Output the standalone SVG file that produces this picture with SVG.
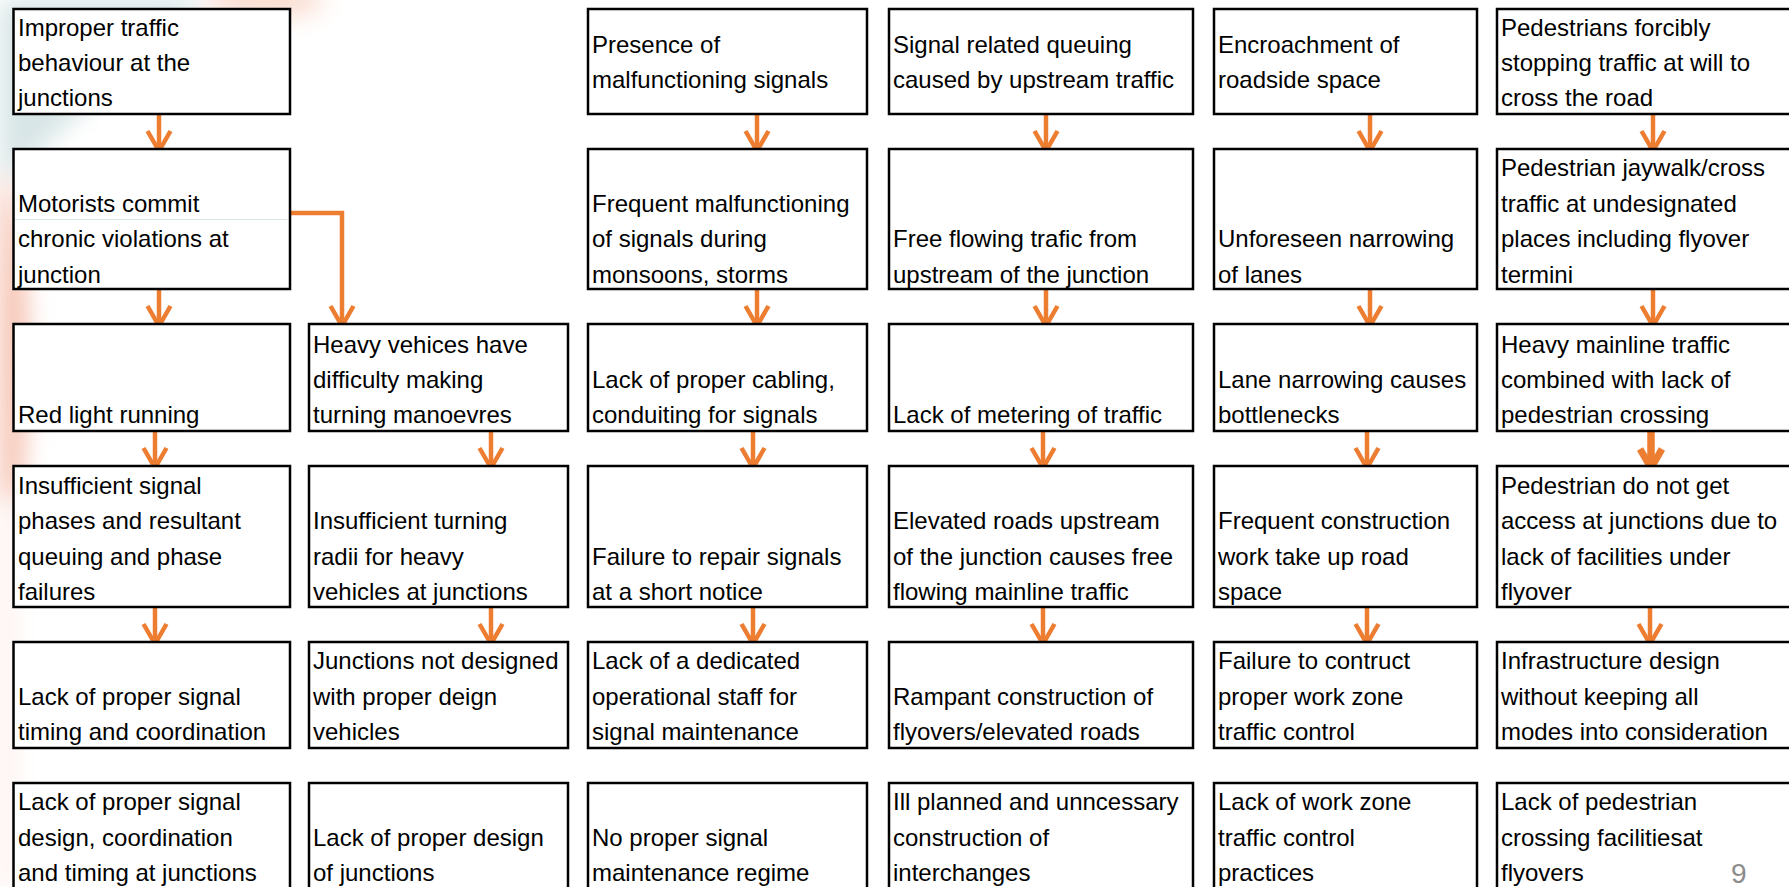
<svg xmlns="http://www.w3.org/2000/svg" width="1789" height="887" viewBox="0 0 1789 887">
  <defs>
    <style>
      .box { fill: #ffffff; stroke: #000000; stroke-width: 2.5; }
      .t { font-family: "Liberation Sans", Arial, sans-serif; font-size: 24px; fill: #000000; }
      .c { fill: none; stroke: #ED7D31; stroke-width: 4.5; marker-end: url(#head); }
      .cb { fill: none; stroke: #ED7D31; stroke-width: 7.5; marker-end: url(#headBold); }
      .pg { font-family: "Liberation Sans", Arial, sans-serif; font-size: 28px; fill: #8c8c8c; }
    </style>
    <filter id="soft" x="-50%" y="-50%" width="200%" height="200%">
      <feGaussianBlur stdDeviation="12"/>
    </filter>
    <marker id="head" markerUnits="userSpaceOnUse" viewBox="-26 -16 32 32" refX="0" refY="0" markerWidth="32" markerHeight="32" orient="auto" overflow="visible">
      <path d="M-20,-11.5 L0,0 L-20,11.5" fill="none" stroke="#ED7D31" stroke-width="4.5"/>
    </marker>
    <marker id="headBold" markerUnits="userSpaceOnUse" viewBox="-26 -16 32 32" refX="0" refY="0" markerWidth="32" markerHeight="32" orient="auto" overflow="visible">
      <path d="M-19,-11 L0,0 L-19,11" fill="none" stroke="#ED7D31" stroke-width="7"/>
    </marker>
  </defs>

  <!-- page background with soft coloured wash on the left edge -->
  <rect x="0" y="0" width="1789" height="887" fill="#ffffff"/>
  <g id="backdrop" filter="url(#soft)">
    <path d="M0,0 H210 C160,40 90,100 0,190 Z" fill="#d8e5e6"/>
    <ellipse cx="265" cy="0" rx="60" ry="18" fill="#fadccf"/>
    <path d="M0,170 C26,200 34,330 22,480 L0,540 Z" fill="#f5c0ae"/>
    <rect x="0" y="500" width="14" height="387" fill="#fcece7"/>
  </g>

  <!-- connectors -->
  <g id="connectors">
    <!-- row 1 to row 2 -->
    <path class="c" d="M159,114 V151"/>
    <path class="c" d="M757,114 V151"/>
    <path class="c" d="M1046,114 V151"/>
    <path class="c" d="M1370,114 V151"/>
    <path class="c" d="M1653,114 V151"/>
    <!-- row 2 to row 3 -->
    <path class="c" d="M159,289 V326"/>
    <path class="c" d="M290,213 H342 V326"/>
    <path class="c" d="M757,289 V326"/>
    <path class="c" d="M1046,289 V326"/>
    <path class="c" d="M1370,289 V326"/>
    <path class="c" d="M1653,289 V326"/>
    <!-- row 3 to row 4 -->
    <path class="c" d="M155,431 V468"/>
    <path class="c" d="M491,431 V468"/>
    <path class="c" d="M753,431 V468"/>
    <path class="c" d="M1043,431 V468"/>
    <path class="c" d="M1367,431 V468"/>
    <path class="cb" d="M1651,431 V468"/>
    <!-- row 4 to row 5 -->
    <path class="c" d="M155,607 V644"/>
    <path class="c" d="M491,607 V644"/>
    <path class="c" d="M753,607 V644"/>
    <path class="c" d="M1043,607 V644"/>
    <path class="c" d="M1367,607 V644"/>
    <path class="c" d="M1650,607 V644"/>
  </g>

  <!-- row 1 -->
  <g id="n-c1r1">
    <rect class="box" x="13.5" y="9" width="276.5" height="105"/>
    <text class="t"><tspan x="18" y="35.5">Improper traffic</tspan><tspan x="18" y="71">behaviour at the</tspan><tspan x="18" y="106.3">junctions</tspan></text>
  </g>
  <g id="n-c3r1">
    <rect class="box" x="588" y="9" width="279" height="105"/>
    <text class="t"><tspan x="592" y="52.7">Presence of</tspan><tspan x="592" y="88.3">malfunctioning signals</tspan></text>
  </g>
  <g id="n-c4r1">
    <rect class="box" x="889" y="9" width="304" height="105"/>
    <text class="t"><tspan x="893" y="52.7">Signal related queuing</tspan><tspan x="893" y="88.3">caused by upstream traffic</tspan></text>
  </g>
  <g id="n-c5r1">
    <rect class="box" x="1214" y="9" width="263" height="105"/>
    <text class="t"><tspan x="1218" y="52.7">Encroachment of</tspan><tspan x="1218" y="88.3">roadside space</tspan></text>
  </g>
  <g id="n-c6r1">
    <rect class="box" x="1497" y="9" width="303" height="105"/>
    <text class="t"><tspan x="1501" y="35.5">Pedestrians forcibly</tspan><tspan x="1501" y="71">stopping traffic at will to</tspan><tspan x="1501" y="106.3">cross the road</tspan></text>
  </g>

  <!-- row 2 -->
  <g id="n-c1r2">
    <rect class="box" x="13.5" y="149" width="276.5" height="140"/>
    <line x1="15" y1="219.5" x2="287" y2="219.5" stroke="#dbe4e4" stroke-width="1"/>
    <text class="t"><tspan x="18" y="211.5">Motorists commit</tspan><tspan x="18" y="247">chronic violations at</tspan><tspan x="18" y="282.5">junction</tspan></text>
  </g>
  <g id="n-c3r2">
    <rect class="box" x="588" y="149" width="279" height="140"/>
    <text class="t"><tspan x="592" y="211.5">Frequent malfunctioning</tspan><tspan x="592" y="247">of signals during</tspan><tspan x="592" y="282.5">monsoons, storms</tspan></text>
  </g>
  <g id="n-c4r2">
    <rect class="box" x="889" y="149" width="304" height="140"/>
    <text class="t"><tspan x="893" y="247">Free flowing trafic from</tspan><tspan x="893" y="282.5">upstream of the junction</tspan></text>
  </g>
  <g id="n-c5r2">
    <rect class="box" x="1214" y="149" width="263" height="140"/>
    <text class="t"><tspan x="1218" y="247">Unforeseen narrowing</tspan><tspan x="1218" y="282.5">of lanes</tspan></text>
  </g>
  <g id="n-c6r2">
    <rect class="box" x="1497" y="149" width="303" height="140"/>
    <text class="t"><tspan x="1501" y="176">Pedestrian jaywalk/cross</tspan><tspan x="1501" y="211.5">traffic at undesignated</tspan><tspan x="1501" y="247">places including flyover</tspan><tspan x="1501" y="282.5">termini</tspan></text>
  </g>

  <!-- row 3 -->
  <g id="n-c1r3">
    <rect class="box" x="13.5" y="324" width="276.5" height="107"/>
    <text class="t"><tspan x="18" y="423.3">Red light running</tspan></text>
  </g>
  <g id="n-c2r3">
    <rect class="box" x="309" y="324" width="259" height="107"/>
    <text class="t"><tspan x="313" y="352.7">Heavy vehices have</tspan><tspan x="313" y="388">difficulty making</tspan><tspan x="313" y="423.3">turning manoevres</tspan></text>
  </g>
  <g id="n-c3r3">
    <rect class="box" x="588" y="324" width="279" height="107"/>
    <text class="t"><tspan x="592" y="388">Lack of proper cabling,</tspan><tspan x="592" y="423.3">conduiting for signals</tspan></text>
  </g>
  <g id="n-c4r3">
    <rect class="box" x="889" y="324" width="304" height="107"/>
    <text class="t"><tspan x="893" y="423.3">Lack of metering of traffic</tspan></text>
  </g>
  <g id="n-c5r3">
    <rect class="box" x="1214" y="324" width="263" height="107"/>
    <text class="t"><tspan x="1218" y="388">Lane narrowing causes</tspan><tspan x="1218" y="423.3">bottlenecks</tspan></text>
  </g>
  <g id="n-c6r3">
    <rect class="box" x="1497" y="324" width="303" height="107"/>
    <text class="t"><tspan x="1501" y="352.7">Heavy mainline traffic</tspan><tspan x="1501" y="388">combined with lack of</tspan><tspan x="1501" y="423.3">pedestrian crossing</tspan></text>
  </g>

  <!-- row 4 -->
  <g id="n-c1r4">
    <rect class="box" x="13.5" y="466" width="276.5" height="141"/>
    <text class="t"><tspan x="18" y="493.5">Insufficient signal</tspan><tspan x="18" y="529">phases and resultant</tspan><tspan x="18" y="564.5">queuing and phase</tspan><tspan x="18" y="600">failures</tspan></text>
  </g>
  <g id="n-c2r4">
    <rect class="box" x="309" y="466" width="259" height="141"/>
    <text class="t"><tspan x="313" y="529">Insufficient turning</tspan><tspan x="313" y="564.5">radii for heavy</tspan><tspan x="313" y="600">vehicles at junctions</tspan></text>
  </g>
  <g id="n-c3r4">
    <rect class="box" x="588" y="466" width="279" height="141"/>
    <text class="t"><tspan x="592" y="564.5">Failure to repair signals</tspan><tspan x="592" y="600">at a short notice</tspan></text>
  </g>
  <g id="n-c4r4">
    <rect class="box" x="889" y="466" width="304" height="141"/>
    <text class="t"><tspan x="893" y="529">Elevated roads upstream</tspan><tspan x="893" y="564.5">of the junction causes free</tspan><tspan x="893" y="600">flowing mainline traffic</tspan></text>
  </g>
  <g id="n-c5r4">
    <rect class="box" x="1214" y="466" width="263" height="141"/>
    <text class="t"><tspan x="1218" y="529">Frequent construction</tspan><tspan x="1218" y="564.5">work take up road</tspan><tspan x="1218" y="600">space</tspan></text>
  </g>
  <g id="n-c6r4">
    <rect class="box" x="1497" y="466" width="303" height="141"/>
    <text class="t"><tspan x="1501" y="493.5">Pedestrian do not get</tspan><tspan x="1501" y="529">access at junctions due to</tspan><tspan x="1501" y="564.5">lack of facilities under</tspan><tspan x="1501" y="600">flyover</tspan></text>
  </g>

  <!-- row 5 -->
  <g id="n-c1r5">
    <rect class="box" x="13.5" y="642" width="276.5" height="106"/>
    <text class="t"><tspan x="18" y="704.5">Lack of proper signal</tspan><tspan x="18" y="740">timing and coordination</tspan></text>
  </g>
  <g id="n-c2r5">
    <rect class="box" x="309" y="642" width="259" height="106"/>
    <text class="t"><tspan x="313" y="669">Junctions not designed</tspan><tspan x="313" y="704.5">with proper deign</tspan><tspan x="313" y="740">vehicles</tspan></text>
  </g>
  <g id="n-c3r5">
    <rect class="box" x="588" y="642" width="279" height="106"/>
    <text class="t"><tspan x="592" y="669">Lack of a dedicated</tspan><tspan x="592" y="704.5">operational staff for</tspan><tspan x="592" y="740">signal maintenance</tspan></text>
  </g>
  <g id="n-c4r5">
    <rect class="box" x="889" y="642" width="304" height="106"/>
    <text class="t"><tspan x="893" y="704.5">Rampant construction of</tspan><tspan x="893" y="740">flyovers/elevated roads</tspan></text>
  </g>
  <g id="n-c5r5">
    <rect class="box" x="1214" y="642" width="263" height="106"/>
    <text class="t"><tspan x="1218" y="669">Failure to contruct</tspan><tspan x="1218" y="704.5">proper work zone</tspan><tspan x="1218" y="740">traffic control</tspan></text>
  </g>
  <g id="n-c6r5">
    <rect class="box" x="1497" y="642" width="303" height="106"/>
    <text class="t"><tspan x="1501" y="669">Infrastructure design</tspan><tspan x="1501" y="704.5">without keeping all</tspan><tspan x="1501" y="740">modes into consideration</tspan></text>
  </g>

  <!-- row 6 -->
  <g id="n-c1r6">
    <rect class="box" x="13.5" y="783" width="276.5" height="112"/>
    <text class="t"><tspan x="18" y="810">Lack of proper signal</tspan><tspan x="18" y="845.5">design, coordination</tspan><tspan x="18" y="881">and timing at junctions</tspan></text>
  </g>
  <g id="n-c2r6">
    <rect class="box" x="309" y="783" width="259" height="112"/>
    <text class="t"><tspan x="313" y="845.5">Lack of proper design</tspan><tspan x="313" y="881">of junctions</tspan></text>
  </g>
  <g id="n-c3r6">
    <rect class="box" x="588" y="783" width="279" height="112"/>
    <text class="t"><tspan x="592" y="845.5">No proper signal</tspan><tspan x="592" y="881">maintenance regime</tspan></text>
  </g>
  <g id="n-c4r6">
    <rect class="box" x="889" y="783" width="304" height="112"/>
    <text class="t"><tspan x="893" y="810">Ill planned and unncessary</tspan><tspan x="893" y="845.5">construction of</tspan><tspan x="893" y="881">interchanges</tspan></text>
  </g>
  <g id="n-c5r6">
    <rect class="box" x="1214" y="783" width="263" height="112"/>
    <text class="t"><tspan x="1218" y="810">Lack of work zone</tspan><tspan x="1218" y="845.5">traffic control</tspan><tspan x="1218" y="881">practices</tspan></text>
  </g>
  <g id="n-c6r6">
    <rect class="box" x="1497" y="783" width="303" height="112"/>
    <text class="t"><tspan x="1501" y="810">Lack of pedestrian</tspan><tspan x="1501" y="845.5">crossing facilitiesat</tspan><tspan x="1501" y="881">flyovers</tspan></text>
  </g>

  <!-- slide number -->
  <text class="pg" x="1731" y="883">9</text>
</svg>
